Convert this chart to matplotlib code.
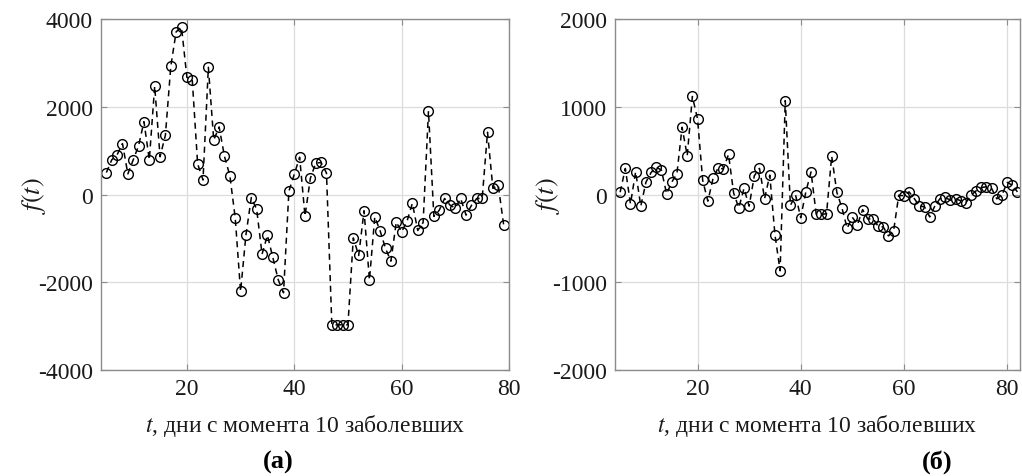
# f(t) for the two cases (a) and (б)
import numpy as np
import matplotlib
matplotlib.use('Agg')
import matplotlib.pyplot as plt

plt.rcParams['font.family'] = ['Liberation Serif', 'DejaVu Serif']
plt.rcParams['mathtext.fontset'] = 'stix'
plt.rcParams['axes.unicode_minus'] = False

# data
t_a = list(range(5, 80))
f_a = [500, 790, 905, 1160, 470, 790, 1110, 1660, 790, 2470,
       860, 1355, 2920, 3710, 3810, 2670, 2610, 700, 330, 2900,
       1240, 1540, 870, 430, -530, -2210, -920, -70, -340, -1360,
       -930, -1430, -1940, -2240, 75, 460, 850, -490, 370, 715,
       730, 490, -2970, -2970, -2970, -2970, -990, -1390, -370, -1950,
       -510, -830, -1230, -1520, -630, -850, -610, -200, -820, -640,
       1900, -500, -360, -90, -240, -310, -90, -470, -250, -90,
       -90, 1420, 140, 210, -690]

t_b = list(range(5, 83))
f_b = [26, 297, -107, 259, -133, 141, 251, 312, 278, 8,
       141, 236, 766, 442, 1117, 861, 160, -76, 183, 305,
       290, 457, 15, -152, 69, -133, 213, 297, -46, 221,
       -457, -869, 1070, -124, -8, -265, 34, 257, -225, -225,
       -220, 438, 25, -156, -385, -259, -343, -172, -280, -274,
       -362, -370, -472, -415, -8, -15, 30, -46, -130, -141,
       -255, -130, -46, -34, -65, -46, -72, -95, -8, 42,
       80, 88, 69, -49, -8, 137, 107, 30]

fig = plt.figure(figsize=(10.22, 4.77), dpi=100)
ax1 = fig.add_axes([101/1022, 1 - 371/477, 408/1022, 351/477])
ax2 = fig.add_axes([615/1022, 1 - 371/477, 405/1022, 351/477])

panels = [(ax1, t_a, f_a, (4, 80), (-4000, 4000), 2000),
          (ax2, t_b, f_b, (4, 82.5), (-2000, 2000), 1000)]

for ax, t, f, xl, yl, step in panels:
    ax.plot(t, f, linestyle='--', color='black', linewidth=1.1,
            marker='o', markersize=7, markerfacecolor='none',
            markeredgecolor='black', markeredgewidth=1.0, dashes=(4, 3))
    ax.set_xlim(*xl)
    ax.set_ylim(*yl)
    ax.set_xticks([20, 40, 60, 80])
    ax.set_yticks(np.arange(yl[0], yl[1] + 1, step))
    ax.grid(True, color='#dcdcdc', linewidth=0.9)
    ax.set_axisbelow(True)
    for s in ax.spines.values():
        s.set_color('#8c8c8c')
        s.set_linewidth(1.0)
    ax.tick_params(direction='in', length=4, color='#8c8c8c', labelsize=17,
                   top=True, right=True, pad=6, labelcolor='#1a1a1a')
    ax.set_xlabel(r'$t$, дни с момента 10 заболевших', fontsize=17, color='#1a1a1a')
    ax.xaxis.set_label_coords(0.5, -0.12)
    ax.set_ylabel(r'$f(t)$', fontsize=19, color='#1a1a1a')
    ax.yaxis.set_label_coords(-0.13, 0.5)

fig.text(278/1022, 1 - 462/477, '(а)', fontsize=19, fontweight='bold', ha='center', va='center')
fig.text(937/1022, 1 - 462/477, '(б)', fontsize=19, fontweight='bold', ha='center', va='center')

fig.savefig('out.png', dpi=100)
